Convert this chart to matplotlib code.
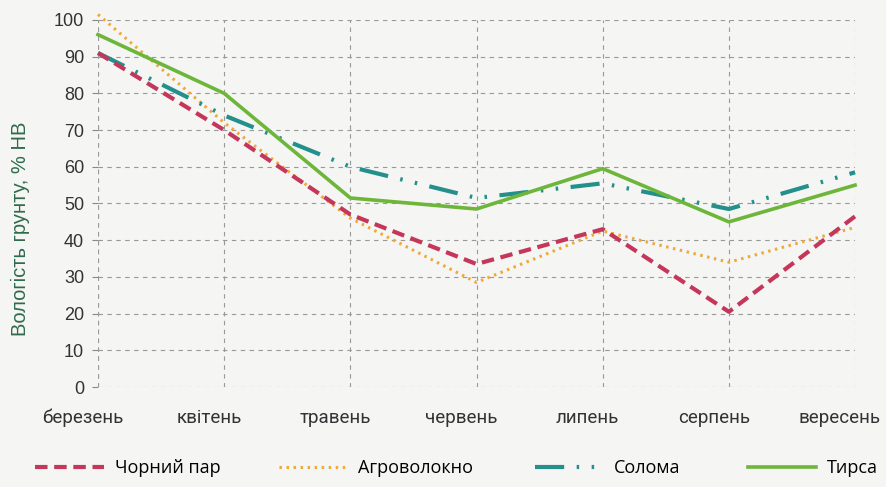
import numpy as np
import matplotlib
matplotlib.use("Agg")
import matplotlib.pyplot as plt

# дані
months = ["березень", "квітень", "травень", "червень", "липень", "серпень", "вересень"]
chornyi_par = [91, 70, 47, 33.5, 43, 20.5, 46.5]
agrovolokno = [101.5, 72, 46, 28.5, 42.5, 34, 43.5]
soloma = [91, 74, 60, 51.5, 55.5, 48.5, 58.5]
tyrsa = [96, 80, 51.5, 48.5, 59.5, 45, 55]
yticks = list(range(0, 101, 10))

fig = plt.figure(figsize=(8.87, 4.87), dpi=100, facecolor="#f5f5f4")
ax = fig.add_axes([0.1105, 0.2053, 0.8535, 0.7537])
ax.set_facecolor("#f5f5f4")

x = np.arange(len(months))
l1, = ax.plot(x, chornyi_par, color="#c4375a", lw=3, dashes=(3, 1.6), label="Чорний пар", clip_on=False, zorder=4)
l2, = ax.plot(x, agrovolokno, color="#f0a838", lw=2.2, dashes=(0.8, 1.5), label="Агроволокно", clip_on=False, zorder=3)
l3, = ax.plot(x, soloma, color="#23908c", lw=3, dashes=(7, 3, 0.6, 3, 0.6, 3), label="Солома", clip_on=False, zorder=3)
l4, = ax.plot(x, tyrsa, color="#6db63a", lw=2.6, label="Тирса", clip_on=False, zorder=5)

ax.set_yticks(yticks)
ax.set_xticks(x)
ax.set_xticklabels([])
ax.set_xlim(0, 6)
ax.set_ylim(0, 100)
ax.tick_params(axis="x", length=0)
ax.tick_params(axis="y", length=4, color="#888888", labelsize=13, labelcolor="#333333", pad=6)
for lab in ax.get_yticklabels():
    lab.set_family("Liberation Sans")

# підписи місяців трохи зсунуті вліво від ліній сітки
for xi, m in zip(x, months):
    ax.text(xi - 0.12, -0.084, m, transform=ax.get_xaxis_transform(), ha="center", va="center",
            fontsize=13.5, color="#333333", family="Roboto", clip_on=False)

ax.grid(True, color="#999999", ls=(0, (4, 4)), lw=0.8)
for s in ax.spines.values():
    s.set_visible(False)
ax.axvline(0, color="#999999", ls=(0, (4, 4)), lw=0.8)

ax.set_ylabel("Вологість грунту, % НВ", fontsize=14.5, color="#2f6b4a", family="Liberation Sans")
ax.yaxis.set_label_coords(-0.09, 0.43)

for line, xpos in zip([l1, l2, l3, l4], [0.04, 0.314, 0.603, 0.843]):
    fig.legend(handles=[line], loc="center left", bbox_to_anchor=(xpos, 0.039), frameon=False,
               handlelength=3.8, handletextpad=0.6, borderaxespad=0, borderpad=0,
               prop={"family": "Open Sans", "size": 13})

fig.savefig("out.png", dpi=100, facecolor=fig.get_facecolor())
